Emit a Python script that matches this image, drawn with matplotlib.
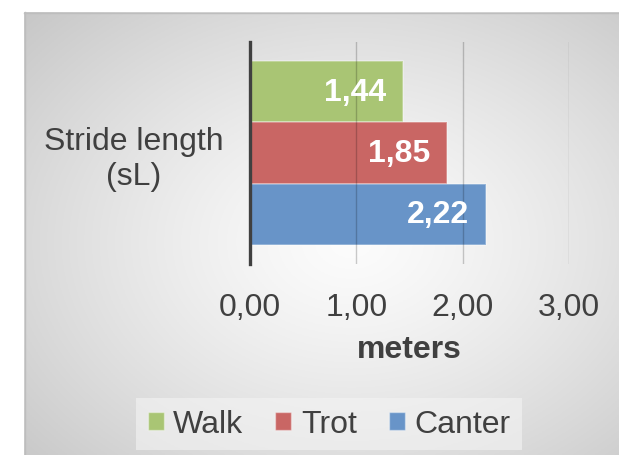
import numpy as np
import matplotlib
matplotlib.use('Agg')
from matplotlib import pyplot as plt
from matplotlib.patches import Patch
from matplotlib.ticker import FuncFormatter

plt.rcParams['font.family'] = ['Liberation Sans', 'DejaVu Sans']

# data
category = 'Stride length\n(sL)'
series = ['Walk', 'Trot', 'Canter']
values = [1.44, 1.85, 2.22]
colors = ['#a9c574', '#c96664', '#6894c8']
xticks = [0, 1, 2, 3]

W, H = 619, 456
fig = plt.figure(figsize=(W / 100, H / 100), dpi=100)
fig.patch.set_facecolor('white')

# radial gray background of the chart area
bg = fig.add_axes([24 / W, 0, (W - 24) / W, (H - 13) / H])
gx, gy = np.meshgrid(np.linspace(0, 1, 300), np.linspace(0, 1, 220))
d = np.sqrt(((gx - 0.55) / 0.55) ** 2 + ((gy - 0.52) / 0.55) ** 2) / np.sqrt(2)
shade = np.clip(252 - 55 * d ** 1.3, 190, 255) / 255
bg.imshow(np.dstack([shade] * 3), extent=(0, 1, 0, 1), aspect='auto', origin='upper')
bg.axis('off')
fig.add_artist(plt.Line2D([24 / W, 1], [1 - 13.5 / H] * 2, color='#bdbdbd', lw=1))
fig.add_artist(plt.Line2D([24.5 / W] * 2, [0, 1 - 13 / H], color='#bdbdbd', lw=1))

ax = fig.add_axes([250 / W, 1 - 265 / H, 319 / W, 222 / H])
ax.patch.set_alpha(0)

h = 0.275
offsets = [h, 0, -h]
for name, v, c, off in zip(series, values, colors, offsets):
    bars = ax.barh(0.5 + off, v, height=h, color=c, edgecolor=(1, 1, 1, 0.35),
                   linewidth=1.2, label=name, zorder=2)
    labs = ax.bar_label(bars, labels=[f'{v:.2f}'.replace('.', ',')], padding=-12,
                        color='white', fontsize=23, fontweight='bold')
    for t in labs:
        t.set_ha('right')
        t.set_va('center')

ax.set_xlim(0, 3)
ax.set_ylim(0, 1)
ax.set_xticks(xticks)
ax.xaxis.set_major_formatter(FuncFormatter(lambda x, p: f'{x:.2f}'.replace('.', ',')))
ax.grid(axis='x', color='black', alpha=0.2, lw=1, zorder=3)
ax.set_axisbelow(False)
ax.set_yticks([0.5], [category], ha='center', multialignment='center')
ax.tick_params(axis='x', length=0, pad=20, labelsize=23, labelcolor='#404040')
ax.tick_params(axis='y', length=0, pad=84, labelsize=23, labelcolor='#404040')
for s in ['top', 'right', 'bottom']:
    ax.spines[s].set_visible(False)
ax.spines['left'].set_color('#404040')
ax.spines['left'].set_linewidth(2.4)
ax.spines['left'].set_zorder(4)
ax.set_xlabel('meters', fontsize=23, fontweight='bold', color='#404040', labelpad=9)

handles = [Patch(facecolor=c, edgecolor=(1, 1, 1, 0.4), label=n) for n, c in zip(series, colors)]
leg = fig.legend(handles=handles, loc='center', bbox_to_anchor=(329 / W, 1 - 425 / H), ncol=3,
                 fontsize=23, frameon=True, fancybox=False, facecolor='#f4f4f4', edgecolor='none',
                 framealpha=0.6, handlelength=0.5, handleheight=0.5, handletextpad=0.3,
                 columnspacing=1.0, borderpad=0.35, borderaxespad=0, labelcolor='#404040')
leg.get_frame().set_boxstyle('square', pad=0)

fig.savefig('out.png', dpi=100)
